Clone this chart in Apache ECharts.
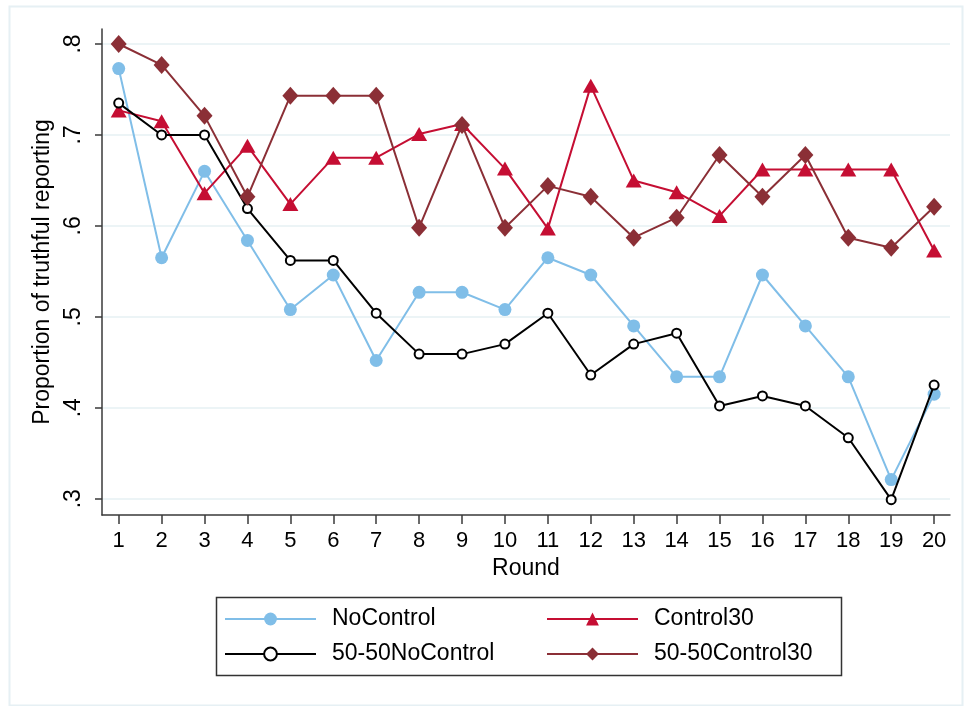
<!DOCTYPE html>
<html>
<head>
<meta charset="utf-8">
<script src="https://cdn.jsdelivr.net/npm/echarts@6/dist/echarts.min.js"></script>
<style>
html,body{margin:0;padding:0;background:#fff;}
#c{width:964px;height:706px;}
</style>
</head>
<body>
<div id="c"></div>
<script>
var rounds = [1,2,3,4,5,6,7,8,9,10,11,12,13,14,15,16,17,18,19,20];
var yTicks = [0.3,0.4,0.5,0.6,0.7,0.8];
var seriesNames = ['NoControl','Control30','50-50NoControl','50-50Control30'];
var noControl = [0.773,0.565,0.660,0.584,0.508,0.546,0.452,0.527,0.527,0.508,0.565,0.546,0.490,0.434,0.434,0.546,0.490,0.434,0.321,0.415];
var control30 = [0.727,0.715,0.636,0.688,0.624,0.675,0.675,0.701,0.712,0.663,0.597,0.754,0.650,0.637,0.611,0.662,0.662,0.662,0.662,0.573];
var noControl5050 = [0.735,0.700,0.700,0.619,0.562,0.562,0.504,0.459,0.459,0.470,0.504,0.436,0.470,0.482,0.402,0.413,0.402,0.367,0.299,0.425];
var control30_5050 = [0.800,0.777,0.721,0.632,0.743,0.743,0.743,0.598,0.711,0.598,0.644,0.632,0.587,0.609,0.678,0.632,0.678,0.587,0.576,0.621];

function pairs(vals){ return rounds.map(function(r,i){ return [r, vals[i]]; }); }

var FONT = '"Liberation Sans", Arial, Helvetica, sans-serif';
var chart = echarts.init(document.getElementById('c'), null, {renderer:'canvas'});
var axisColor = '#3a3a3a';
var option = {
  animation: false,
  backgroundColor: '#ffffff',
  textStyle: {fontFamily: FONT, color: '#000'},
  graphic: [
    {type:'rect', left:7, top:4, shape:{x:0,y:0,width:953,height:699}, style:{fill:'none', stroke:'#E6F0F4', lineWidth:2}, silent:true, z:-1},
    {type:'rect', left:214, top:595, shape:{x:0,y:0,width:625,height:78}, style:{fill:'none', stroke:'#333333', lineWidth:1.5}, silent:true}
  ],
  grid: {left:102, right:14, top:29, bottom:191, containLabel:false},
  xAxis: {
    type:'value', min:0.611, max:20.37,
    name:'Round', nameLocation:'middle', nameGap:41,
    nameTextStyle:{fontSize:23, fontFamily:FONT, color:'#000'},
    axisLine:{show:true, lineStyle:{color:axisColor, width:1.5}},
    axisTick:{show:true, length:9, lineStyle:{color:axisColor, width:1.5}, customValues:rounds},
    axisLabel:{fontSize:22, fontFamily:FONT, color:'#000', margin:15, customValues:rounds, formatter:function(v){return String(Math.round(v));}},
    splitLine:{show:false}
  },
  yAxis: {
    type:'value', min:0.2821, max:0.8165,
    name:'Proportion of truthful reporting', nameLocation:'middle', nameGap:47,
    nameTextStyle:{fontSize:23, fontFamily:FONT, color:'#000'},
    axisLine:{show:true, lineStyle:{color:axisColor, width:1.5}},
    axisTick:{show:true, length:7, lineStyle:{color:axisColor, width:1.5}, customValues:yTicks},
    axisLabel:{fontSize:23, fontFamily:FONT, color:'#000', margin:17, rotate:90, customValues:yTicks,
      formatter:function(v){ return v.toFixed(1).replace(/^0/,''); }},
    splitLine:{show:true, lineStyle:{color:'#E6F0F3', width:1.5}}
  },
  legend: [
    {data:[seriesNames[0], seriesNames[2]], orient:'vertical', left:224, top:607, padding:0,
     itemWidth:91, itemHeight:16, itemGap:11,
     textStyle:{fontSize:23, lineHeight:24, fontFamily:FONT, color:'#000', padding:[0,0,0,11]}},
    {data:[seriesNames[1], seriesNames[3]], orient:'vertical', left:546, top:607, padding:0,
     itemWidth:91, itemHeight:16, itemGap:11,
     textStyle:{fontSize:23, lineHeight:24, fontFamily:FONT, color:'#000', padding:[0,0,0,11]}}
  ],
  series: [
    {name:seriesNames[0], type:'line', data:pairs(noControl), symbol:'circle', symbolSize:13,
     lineStyle:{color:'#80BEE8', width:2}, itemStyle:{color:'#80BEE8'}, z:2},
    {name:seriesNames[1], type:'line', data:pairs(control30), symbol:'triangle', symbolSize:[16,14],
     lineStyle:{color:'#C50E33', width:2}, itemStyle:{color:'#C50E33'}, z:3},
    {name:seriesNames[2], type:'line', data:pairs(noControl5050), symbol:'emptyCircle', symbolSize:9,
     lineStyle:{color:'#000000', width:2}, itemStyle:{color:'#000000', borderColor:'#000000', borderWidth:1.5}, z:4},
    {name:seriesNames[3], type:'line', data:pairs(control30_5050), symbol:'diamond', symbolSize:[16,18],
     lineStyle:{color:'#8B2F36', width:2}, itemStyle:{color:'#8B2F36'}, z:5}
  ]
};
chart.setOption(option);
</script>
</body>
</html>
